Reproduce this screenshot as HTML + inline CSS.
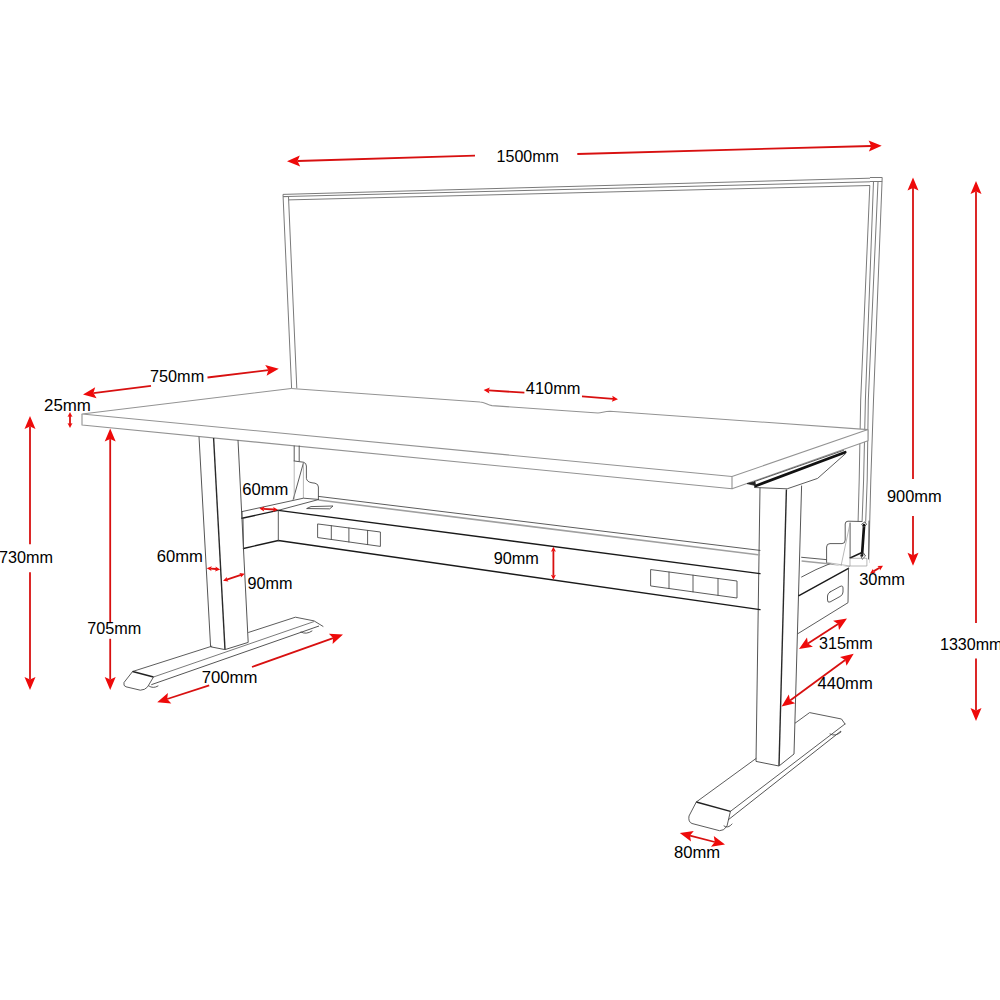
<!DOCTYPE html>
<html><head><meta charset="utf-8"><style>
html,body{margin:0;padding:0;background:#fff;}
body{width:1000px;height:1000px;overflow:hidden;}
svg{display:block;}
.t{fill:none;stroke:#4a4a4a;stroke-width:0.9;stroke-linejoin:round;stroke-linecap:round;}
.w{fill:#fff;stroke:none;}
.d{fill:none;stroke:#939393;stroke-width:1.1;stroke-linejoin:round;}
.s{fill:none;stroke:#7a7a7a;stroke-width:1;}
.la{fill:none;stroke:#555;stroke-width:1;stroke-linejoin:round;}
.lb{fill:none;stroke:#2a2a2a;stroke-width:1.4;}
.k3{fill:none;stroke:#111;stroke-width:2.7;stroke-linecap:round;}
.f{fill:none;stroke:#9a9a9a;stroke-width:0.7;}
.g{fill:none;stroke:#a0a0a0;stroke-width:1.6;}
.m{fill:none;stroke:#222;stroke-width:1.5;}
.k{fill:#222;stroke:#222;stroke-width:0.8;}
.k2{fill:none;stroke:#1a1a1a;stroke-width:1.4;stroke-linecap:round;}
.r{stroke:#d81010;stroke-width:1.8;}
.rh{fill:#ee0a0a;stroke:none;}
text{font-family:"Liberation Sans",sans-serif;font-size:15.8px;fill:#000;}
</style></head><body>
<svg width="1000" height="1000" viewBox="0 0 1000 1000">
<polyline class="s" points="283,194.4 870,178.2"/>
<polyline class="s" points="283,196.6 870,181.8"/>
<polyline class="s" points="288.5,199.9 870,185.5"/>
<polyline class="s" points="283,194.4 291.6,388.4"/>
<polyline class="s" points="288.5,197 296.8,388.4"/>
<polyline class="s" points="283,196.6 288.5,196.6"/>
<polyline class="s" points="869.8,185.5 860.7,400 859.2,480 857,563"/>
<polyline class="s" points="873.5,181.5 865.4,400 863.6,480 860.6,563"/>
<polyline class="s" points="878,181.5 868.3,400 867.2,480 864.2,563"/>
<polyline class="s" points="882.2,177.5 873.5,400 870.8,480 868.7,563"/>
<polyline class="s" points="870,177.5 882.2,177.5"/>
<polyline class="s" points="870,181.5 882.2,181.5"/>
<polygon class="w" points="82,414 291.2,388.5 868,429.6 868,440.8 732,488.8 82,425"/>
<polyline class="d" points="732,476.5 82,414 291.2,388.5"/>
<path class="d" d="M291.2,388.5 L480,402 C485,402 487,405 492,405.6 L598,413 C602,413 604,411.2 610,411.2 L868,429.6"/>
<polyline class="d" points="732,476.5 868,429.6"/>
<polyline class="d" points="82,414 82,425 732,488.8 732,476.5"/>
<polyline class="d" points="732,488.8 868,440.8 868,429.6"/>
<polyline class="la" points="199,436.6 210.6,646.8"/>
<polyline class="lb" points="213.6,438 225,649.6"/>
<polyline class="la" points="238,440 248.2,642.4"/>
<polyline class="la" points="210.6,646.8 225,649.6 248.2,642.4"/>
<polyline class="la" points="760,487.5 756,761.4"/>
<polyline class="lb" points="786.4,489.6 779,766"/>
<polyline class="la" points="801.6,485.6 794,754"/>
<polyline class="la" points="756,761.4 779,766 794,754"/>
<polyline class="t" points="754.4,481.6 843.5,450.4"/>
<polyline class="k3" points="755.5,486 845.2,452.2"/>
<polygon class="k" points="747,483.6 755,481.8 755.5,485.5"/>
<polyline class="t" points="754.5,487.5 787.2,488.8 817.6,478.4 845.6,453.6"/>
<polyline class="t" points="248.6,632.4 295.4,617.2 314.1,620.9 323,626.4"/>
<polyline class="t" points="132.6,671.5 211.8,646.2"/>
<polyline class="m" points="132.6,671.5 153.5,677"/>
<polyline class="s" points="153.5,677 314.2,621.5"/>
<polyline class="la" points="151.3,684.7 319,626"/>
<path class="t" d="M132.6,671.5 L124,682.5 Q123,686 126,686.8 L140.3,690.2 Q145,690 147.5,687 L153.5,677"/>
<path class="t" d="M149,686 q4,3 9,0"/>
<path class="t" d="M301,632 q5,3 11,-1"/>
<polyline class="t" points="795.3,723 809.6,712.6 841.5,719 845,724"/>
<polyline class="t" points="696.3,802 756,758.5"/>
<polyline class="m" points="696.3,802 730.4,811.4"/>
<polyline class="t" points="730.4,811.4 845,724"/>
<polyline class="la" points="728,820 841,731"/>
<path class="t" d="M696.3,802 L689,816 Q688,822 692,823.5 L719.5,830.7 Q724,831 727,826 L730.4,811.4"/>
<path class="t" d="M724,826 q4,3 8,-2"/>
<path class="t" d="M830,734 q5,3 11,-2"/>
<polyline class="t" points="294.2,446 294.2,461"/>
<polyline class="t" points="299.2,446 299.2,461"/>
<polyline class="t" points="318.4,496.4 760,550.4"/>
<polyline class="g" points="318.4,500 760,555"/>
<polyline class="t" points="801.6,557.3 857,562.5"/>
<polyline class="g" points="801.6,561 850,566"/>
<path class="t" d="M294.2,461 L303.4,462.2 Q306.4,463 306.4,466 L306.4,478.4 Q307,482 312,482.8 L315,483.2 Q318.4,484 318.4,487 L318.4,499.4"/>
<polyline class="t" points="303.4,463 293.2,499.4"/>
<polyline class="f" points="303.4,463 303.4,498.2"/>
<polyline class="f" points="294.2,461 294.2,499"/>
<polyline class="t" points="242,511.6 303.4,498.2 318.4,499.4"/>
<polyline class="k2" points="242,518.2 278,510.4"/>
<polyline class="t" points="278,510.4 318.4,499.6"/>
<polyline class="t" points="242,511.6 242,518.2"/>
<path class="t" d="M307,508.4 L311,506.6 L333,506 L330,508.6 Z"/>
<polyline class="k2" points="278.3,510.4 760,573.6"/>
<polyline class="k2" points="243.5,548.5 278.3,540.5 760,609.6"/>
<polyline class="t" points="278.3,510.4 278.3,540.5"/>
<polyline class="t" points="243,518 243.5,548.5"/>
<polygon class="t" points="318,524 380.4,532 380.4,546.4 318,537.6"/>
<polyline class="t" points="331.3,525.7 331.3,539.5"/>
<polyline class="t" points="348.9,528 348.9,542"/>
<polyline class="t" points="367.6,530.4 367.6,544.6"/>
<polygon class="t" points="651,569.6 737,581 737,598 651,586"/>
<polyline class="t" points="669,572 669,588.5"/>
<polyline class="t" points="693,575.2 693,591.9"/>
<polyline class="t" points="718,578.5 718,595.3"/>
<polyline class="t" points="801.6,577 816,569.6 833,562.4"/>
<polyline class="k2" points="799,595.6 848.5,568.3"/>
<polyline class="t" points="848.5,568.3 848,602.7 798,633.6"/>
<path class="t" d="M830,592 L840,586.5 Q843,585 843,588 L843,592 Q843,595 840,596.5 L830,602 Q827.5,603 827.5,600 L827.5,596 Q827.5,593.5 830,592 Z"/>
<polygon class="w" points="826.6,562.5 826.6,546 829,543.6 843,543.6 845.2,541 845.2,524 848,521.2 865,521.5 869,523 869,566 850,566 841,566"/>
<path class="t" d="M826.6,562.5 L826.6,547 Q826.6,543.6 830,543.6 L842,543.6 Q845.2,543.6 845.2,540 L845.2,524 Q845.2,521.2 848,521.2 L862,521.5"/>
<polyline class="t" points="850.1,523 850.1,557.6"/>
<polyline class="f" points="850.1,523 841,566"/>
<polyline class="k3" points="864.1,525 862,555.5"/>
<path class="t" d="M862,524 L865,521.8 L866.5,524.5 L864,527 Z M861,555 L863.5,553 L865.5,556 L862.5,559 Z"/>
<polyline class="k2" points="862,552.5 850.1,558"/>
<polygon class="f" points="850,558.3 866.9,558.3 866.9,566 850,566"/>
<polyline class="t" points="869,521 868.5,559"/>
<polyline class="f" points="826.6,562.5 850,566"/>
<polygon class="rh" points="287,161.3 299.8,155.4 297.5,161 300.2,166.4"/>
<line class="r" x1="475" y1="155.7" x2="297.5" y2="161"/>
<polygon class="rh" points="881.7,145.7 868.9,151.6 871.2,146 868.6,140.6"/>
<line class="r" x1="577.3" y1="154" x2="871.2" y2="146"/>
<polygon class="rh" points="913,177.4 918.5,190.4 913,187.9 907.5,190.4"/>
<line class="r" x1="913" y1="479" x2="913" y2="187.9"/>
<polygon class="rh" points="913,565.7 907.5,552.7 913,555.2 918.5,552.7"/>
<line class="r" x1="913" y1="516" x2="913" y2="555.2"/>
<polygon class="rh" points="976,181 981.5,194 976,191.5 970.5,194"/>
<line class="r" x1="976" y1="623" x2="976" y2="191.5"/>
<polygon class="rh" points="976,721 970.5,708 976,710.5 981.5,708"/>
<line class="r" x1="976" y1="658.5" x2="976" y2="710.5"/>
<polygon class="rh" points="83,394.4 95.2,387.3 93.4,393.1 96.6,398.2"/>
<line class="r" x1="151" y1="385.8" x2="93.4" y2="393.1"/>
<polygon class="rh" points="278.8,368.8 266.6,375.8 268.4,370.1 265.2,364.9"/>
<line class="r" x1="207.5" y1="377.5" x2="268.4" y2="370.1"/>
<polygon class="rh" points="70,412 72.5,417 70,416 67.5,417"/>
<polygon class="rh" points="70,428 67.5,423 70,424 72.5,423"/>
<line class="r" x1="70" y1="416" x2="70" y2="424"/>
<polygon class="rh" points="30,416 35.5,429 30,426.5 24.5,429"/>
<line class="r" x1="30" y1="544.3" x2="30" y2="426.5"/>
<polygon class="rh" points="30,690 24.5,677 30,679.5 35.5,677"/>
<line class="r" x1="30" y1="572.2" x2="30" y2="679.5"/>
<polygon class="rh" points="110.2,428.6 115.7,441.6 110.2,439.1 104.7,441.6"/>
<line class="r" x1="110.2" y1="622.6" x2="110.2" y2="439.1"/>
<polygon class="rh" points="110.2,690 104.7,677 110.2,679.5 115.7,677"/>
<line class="r" x1="110.2" y1="638.8" x2="110.2" y2="679.5"/>
<polygon class="rh" points="483.6,390 489.8,387.4 488.6,390.3 489.4,393.4"/>
<line class="r" x1="524.4" y1="392.7" x2="488.6" y2="390.3"/>
<polygon class="rh" points="618,399.3 611.8,401.8 613,398.9 612.3,395.8"/>
<line class="r" x1="582" y1="396.4" x2="613" y2="398.9"/>
<polygon class="rh" points="259.4,508.6 264.6,506.4 263.4,508.9 264.2,511.4"/>
<polygon class="rh" points="278,509.8 272.8,512 274,509.5 273.2,507"/>
<line class="r" x1="263.4" y1="508.9" x2="274" y2="509.5"/>
<polygon class="rh" points="206.7,568.2 211.9,566.2 210.7,568.6 211.5,571.1"/>
<polygon class="rh" points="220.2,569.4 215,571.4 216.2,569 215.4,566.5"/>
<line class="r" x1="210.7" y1="568.6" x2="216.2" y2="569"/>
<polygon class="rh" points="223,580.8 227,576.9 226.8,579.6 228.5,581.6"/>
<polygon class="rh" points="244.8,573.7 240.8,577.6 241,574.9 239.3,572.9"/>
<line class="r" x1="226.8" y1="579.6" x2="241" y2="574.9"/>
<polygon class="rh" points="553.4,546.8 555.9,551.8 553.4,550.8 550.9,551.8"/>
<polygon class="rh" points="553.4,579.8 550.9,574.8 553.4,575.8 555.9,574.8"/>
<line class="r" x1="553.4" y1="550.8" x2="553.4" y2="575.8"/>
<polygon class="rh" points="157.2,702.2 167.9,693 167.2,699 171.3,703.4"/>
<line class="r" x1="209.2" y1="685.3" x2="167.2" y2="699"/>
<polygon class="rh" points="343,634.6 332.6,644.1 333.1,638.1 328.9,633.8"/>
<line class="r" x1="252" y1="667" x2="333.1" y2="638.1"/>
<polygon class="rh" points="870,573.5 873,568.8 873.4,571.4 875.6,573.1"/>
<polygon class="rh" points="883,565.7 880,570.4 879.6,567.8 877.4,566.1"/>
<line class="r" x1="873.4" y1="571.4" x2="879.6" y2="567.8"/>
<polygon class="rh" points="799,649 807,637.4 807.9,643.4 812.9,646.7"/>
<polygon class="rh" points="847,618.5 839,630.1 838.1,624.1 833.1,620.8"/>
<line class="r" x1="807.9" y1="643.4" x2="838.1" y2="624.1"/>
<polygon class="rh" points="781.6,706.6 788.8,694.5 790.1,700.4 795.3,703.3"/>
<polygon class="rh" points="853.7,653.7 846.5,665.8 845.2,659.9 840,657"/>
<line class="r" x1="790.1" y1="700.4" x2="845.2" y2="659.9"/>
<polygon class="rh" points="679.8,833 693.8,830.9 690,835.6 691,841.6"/>
<polygon class="rh" points="725,844.6 711,846.7 714.8,842 713.8,836"/>
<line class="r" x1="690" y1="835.6" x2="714.8" y2="842"/>
<text x="496.6" y="161.6" textLength="62.3" lengthAdjust="spacingAndGlyphs">1500mm</text>
<text x="887" y="501.6" textLength="54.7" lengthAdjust="spacingAndGlyphs">900mm</text>
<text x="940" y="650" textLength="62.5" lengthAdjust="spacingAndGlyphs">1330mm</text>
<text x="150" y="381.8" textLength="54.2" lengthAdjust="spacingAndGlyphs">750mm</text>
<text x="44" y="410.8" textLength="46.9" lengthAdjust="spacingAndGlyphs">25mm</text>
<text x="-1" y="563.2" textLength="54" lengthAdjust="spacingAndGlyphs">730mm</text>
<text x="87.2" y="634.3" textLength="54" lengthAdjust="spacingAndGlyphs">705mm</text>
<text x="525.8" y="394.3" textLength="54.7" lengthAdjust="spacingAndGlyphs">410mm</text>
<text x="242.2" y="494.8" textLength="46.1" lengthAdjust="spacingAndGlyphs">60mm</text>
<text x="156.8" y="561.7" textLength="46.1" lengthAdjust="spacingAndGlyphs">60mm</text>
<text x="247.6" y="588.7" textLength="45" lengthAdjust="spacingAndGlyphs">90mm</text>
<text x="493.7" y="563.8" textLength="45.2" lengthAdjust="spacingAndGlyphs">90mm</text>
<text x="201.7" y="682.7" textLength="55.7" lengthAdjust="spacingAndGlyphs">700mm</text>
<text x="859.2" y="585.2" textLength="45.7" lengthAdjust="spacingAndGlyphs">30mm</text>
<text x="819" y="649" textLength="53.7" lengthAdjust="spacingAndGlyphs">315mm</text>
<text x="817.5" y="689" textLength="55.2" lengthAdjust="spacingAndGlyphs">440mm</text>
<text x="674" y="858.2" textLength="46.2" lengthAdjust="spacingAndGlyphs">80mm</text>
</svg>
</body></html>
